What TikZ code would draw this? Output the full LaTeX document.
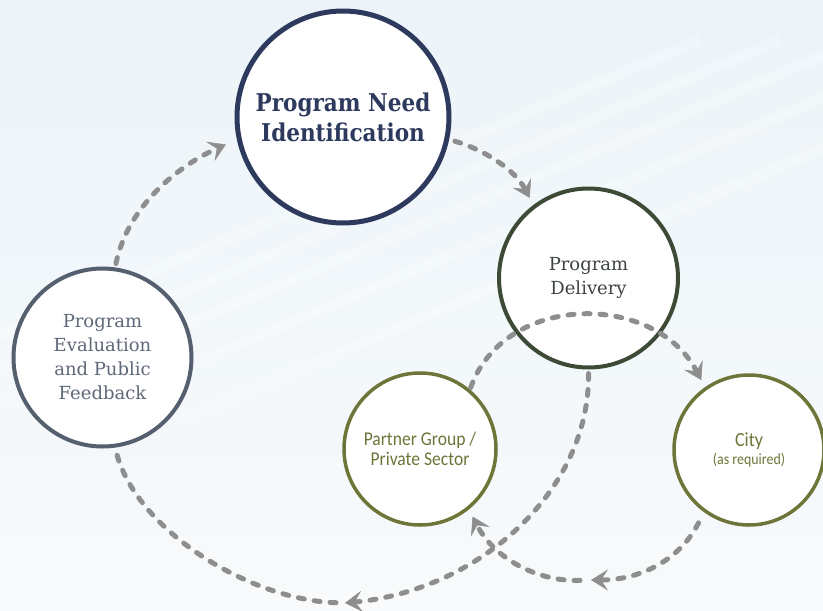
\documentclass[tikz,border=0pt]{standalone}
\usepackage{fontspec}
\usetikzlibrary{arrows.meta}
\newfontfamily\serifR{DejaVu Serif}
\newfontfamily\serifB{DejaVu Serif}[FakeStretch=0.88]
\newfontfamily\sanscond{Carlito}[FakeStretch=0.9]
\definecolor{navy}{HTML}{2D3A5E}
\definecolor{delivgreen}{HTML}{3C4A36}
\definecolor{delivtext}{HTML}{3E4540}
\definecolor{slate}{HTML}{55606F}
\definecolor{slatetext}{HTML}{5E6878}
\definecolor{olive}{HTML}{6E7539}
\definecolor{linegray}{HTML}{8E8E8E}
\definecolor{bgtop}{HTML}{ECF4F9}
\definecolor{bgbot}{HTML}{F8FAFB}
\tikzset{
  stage/.style={circle, draw, fill=white, inner sep=0pt, align=center},
  flow/.style={draw=linegray, line width=5pt, line cap=round, dash pattern=on 6pt off 10pt},
  flowtip/.style={-{Stealth[length=17pt,width=21pt,inset=7pt,line width=0.5pt]}},
  streak/.style={white, opacity=0.25, line width=10pt}
}
\begin{document}
\begin{tikzpicture}[x=1pt,y=-1pt]
\useasboundingbox (0,0) rectangle (823,611);
\shade[top color=bgtop, bottom color=bgbot] (0,0) rectangle (823,611);
\begin{scope}
\clip (0,0) rectangle (823,611);
\foreach \o in {-200,-120,-40,60,180} {
  \draw[streak] (\o,420) -- ++(900,-380);
}
\end{scope}

\node[stage, draw=navy, line width=5pt, minimum size=212pt, text=navy,
      font=\serifB\bfseries\fontsize{24.5}{30}\selectfont] (need) at (343,117)
      {Program Need\\Identification};
\node[stage, draw=delivgreen, line width=4pt, minimum size=179pt, text=delivtext,
      font=\serifR\fontsize{18}{24}\selectfont] (deliv) at (588.5,278)
      {Program\\Delivery};
\node[stage, draw=slate, line width=4pt, minimum size=178pt, text=slatetext,
      font=\serifR\fontsize{18}{24}\selectfont] (eval) at (102.5,357.5)
      {Program\\Evaluation\\and Public\\Feedback};
\node[stage, draw=olive, line width=3.5pt, minimum size=152pt, text=olive,
      font=\sanscond\fontsize{19.5}{20}\selectfont] (partner) at (420,449)
      {Partner Group /\\Private Sector};
\node[stage, draw=olive, line width=3.5pt, minimum size=150pt, text=olive,
      font=\sanscond\fontsize{20}{20}\selectfont] (city) at (749,450)
      {City\\[-2pt]{\fontsize{15.5}{16}\selectfont(as required)}};

\coordinate (m1) at (345,603);
\coordinate (m2) at (591,580);

\draw[flow, flowtip, shorten <=4pt, shorten >=12pt] (eval.82) .. controls (128,205) and (180,165) .. (need.192);
\draw[flow, flowtip, shorten <=6pt, shorten >=8pt] (need.-12) .. controls (485,150) and (515,170) .. (deliv.127);
\draw[flow, flowtip, shorten <=2pt, shorten >=8pt] (partner.50) .. controls (505,292) and (655,292) .. (city.125);
\draw[flow, flowtip, shorten <=4pt] (deliv.-90) .. controls (590,490) and (480,590) .. (m1);
\draw[flow, shorten <=9pt, shorten >=3pt] (m1) .. controls (250,600) and (135,530) .. (eval.-82);
\draw[flow, flowtip, shorten <=12pt] (city.234) .. controls (680,560) and (640,580) .. (m2);
\draw[flow, flowtip, shorten <=11pt, shorten >=8pt] (m2) .. controls (540,582) and (495,560) .. (partner.-51);
\end{tikzpicture}
\end{document}
